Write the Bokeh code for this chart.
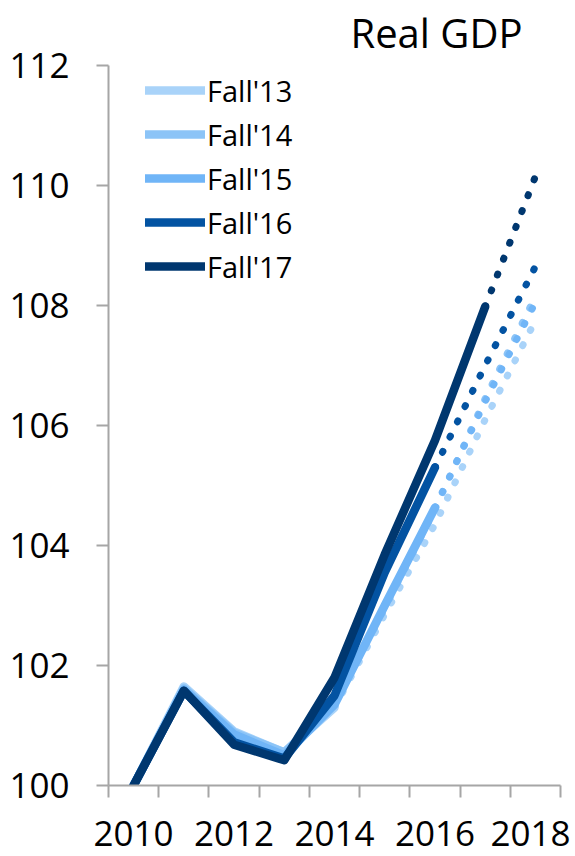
from bokeh.plotting import figure
from bokeh.models import Range1d, FixedTicker, Legend, LegendItem
from bokeh.embed import file_html
from bokeh.resources import INLINE

years = [2010, 2011, 2012, 2013, 2014, 2015, 2016, 2017, 2018]
x_tick_years = [2010, 2012, 2014, 2016, 2018]
y_ticks = [100, 102, 104, 106, 108, 110, 112]

vintages = ["Fall'13", "Fall'14", "Fall'15", "Fall'16", "Fall'17"]
fall13 = [100, 101.65, 100.90, 100.55, 101.30, 102.85, 104.35, 106.10, 107.75]
fall14 = [100, 101.62, 100.88, 100.55, 101.35, 102.95, 104.60, 106.45, 108.15]
fall15 = [100, 101.60, 100.85, 100.50, 101.35, 103.00, 104.63, 106.40, 108.05]
fall16 = [100, 101.58, 100.72, 100.45, 101.50, 103.55, 105.30, 107.00, 108.65]
fall17 = [100, 101.58, 100.68, 100.42, 101.80, 103.85, 105.75, 107.98, 110.15]
last_solid_year = [2014, 2014, 2016, 2016, 2017]
colors = ["#A9D3F9", "#8CC4F7", "#70B5F7", "#0353A2", "#00376F"]
title_text = "Real GDP"

series = [fall13, fall14, fall15, fall16, fall17]

FONT = "Open Sans"

p = figure(width=570, height=856,
           x_range=Range1d(2009.5, 2018.5), y_range=Range1d(100, 112),
           output_backend="svg", toolbar_location=None,
           title=title_text,
           min_border_left=108, min_border_right=10,
           min_border_top=65, min_border_bottom=71)
p.outline_line_color = None
p.xgrid.visible = False
p.ygrid.visible = False
p.background_fill_color = "white"

p.title.text_font = FONT
p.title.text_font_size = "40px"
p.title.text_font_style = "normal"
p.title.text_color = "black"
p.title.align = "right"
p.title.vertical_align = "top"
p.title.offset = 38
p.title.standoff = 8

# axes
xa = p.xaxis[0]
xa.ticker = FixedTicker(ticks=x_tick_years,
                        minor_ticks=[y - 0.5 for y in years] + [years[-1] + 0.5])
xa.major_tick_out = 0
xa.major_tick_in = 0
xa.minor_tick_out = 12
xa.minor_tick_in = 0
xa.minor_tick_line_color = "#A6A6A6"
xa.minor_tick_line_width = 2
xa.axis_line_color = "#A6A6A6"
xa.axis_line_width = 2
xa.major_label_text_font = FONT
xa.major_label_text_font_size = "35px"
xa.major_label_text_color = "black"
xa.major_label_standoff = 23

ya = p.yaxis[0]
ya.ticker = FixedTicker(ticks=y_ticks)
ya.major_tick_out = 12
ya.major_tick_in = 0
ya.minor_tick_out = 0
ya.minor_tick_in = 0
ya.major_tick_line_color = "#A6A6A6"
ya.major_tick_line_width = 2
ya.axis_line_color = "#A6A6A6"
ya.axis_line_width = 2
ya.major_label_text_font = FONT
ya.major_label_text_font_size = "35px"
ya.major_label_text_color = "black"
ya.major_label_standoff = 27

items = []
for name, vals, last, col in zip(vintages, series, last_solid_year, colors):
    k = years.index(last)
    solid = p.line(years[:k + 1], vals[:k + 1], line_color=col, line_width=8.5,
                   line_join="round", line_cap="round")
    p.line(years[k:], vals[k:], line_color=col, line_width=7,
           line_dash="1 16", line_cap="round", line_join="round")
    items.append(LegendItem(label=name, renderers=[solid]))

legend = Legend(items=items, location="top_left", orientation="vertical",
                padding=0, margin=0, spacing=0,
                glyph_width=60, glyph_height=44, label_height=44,
                label_standoff=2,
                label_text_font=FONT, label_text_font_size="29px",
                label_text_color="black", label_text_baseline="middle",
                background_fill_alpha=0, border_line_alpha=0)
legend.location = (37, 497)
p.add_layout(legend, "center")

open("out.html", "w").write(file_html(p, INLINE))
